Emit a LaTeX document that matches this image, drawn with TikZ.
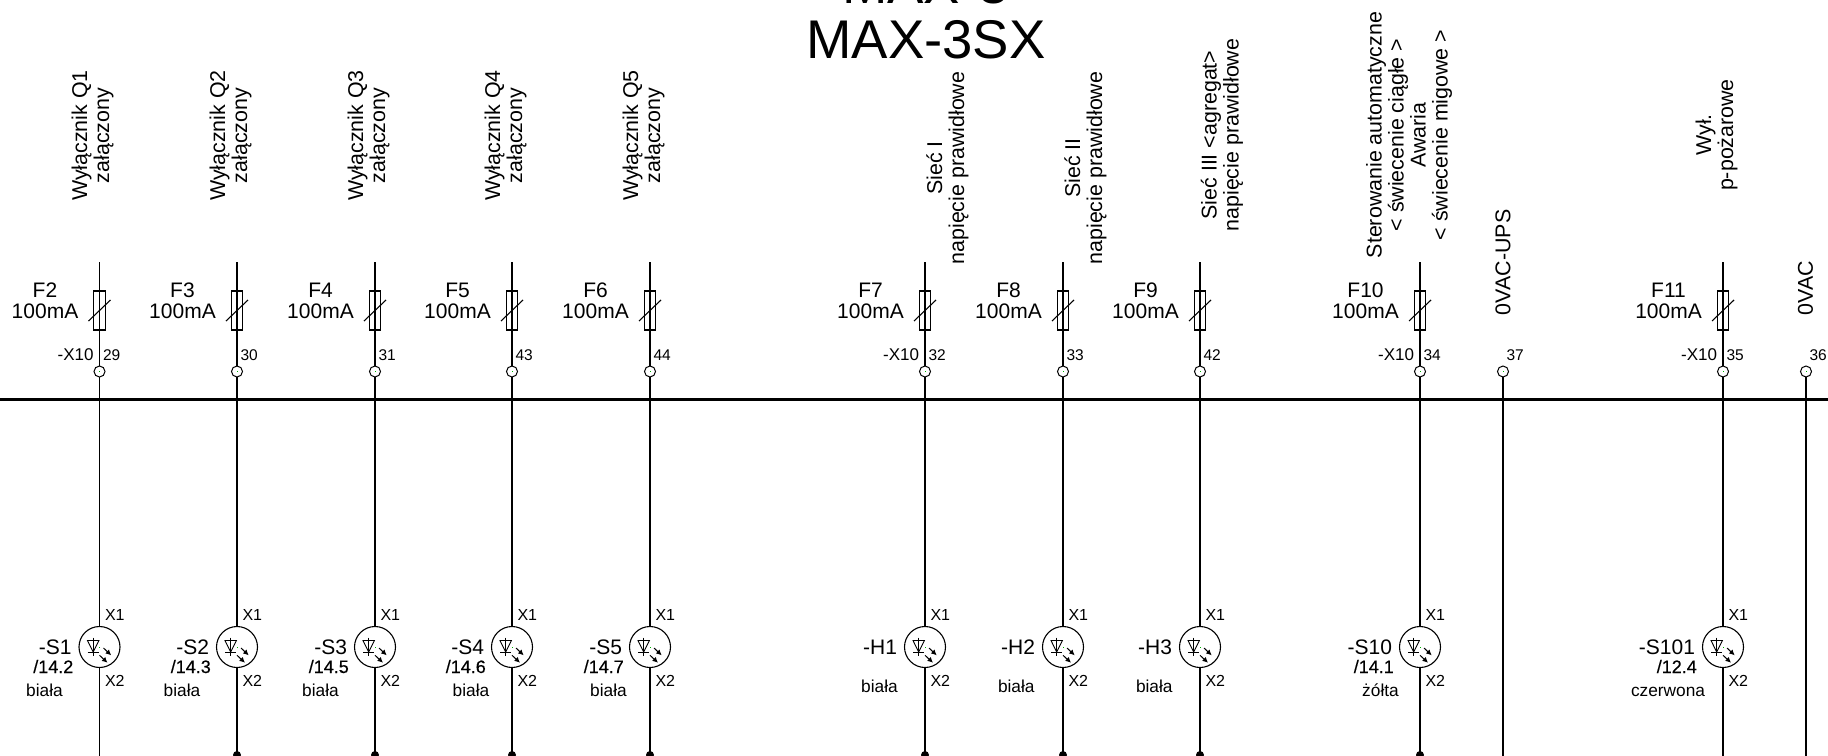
\documentclass[tikz,border=0pt]{standalone}
\usepackage{fontspec}
\setmainfont{Liberation Sans}
\newfontfamily\semibold[FakeBold=0.4]{Liberation Sans}
\usetikzlibrary{arrows.meta}
\newcommand{\fs}[1]{\fontsize{#1}{#1}\selectfont}
\tikzset{
  x=1pt,y=-1pt,
  wire/.style={line width=1.1pt,black},
  busline/.style={line width=3pt,black},
  fusebox/.style={draw,line width=1.1pt,fill=white,minimum width=11.5pt,minimum height=39pt,inner sep=0pt,outer sep=0pt},
  term/.style={circle,draw,line width=1pt,minimum size=11pt,inner sep=0pt,outer sep=0pt},
  lamp/.style={circle,draw,line width=1.1pt,minimum size=41pt,inner sep=0pt,outer sep=0pt},
  txt/.style={inner sep=0pt,outer sep=0pt,text=black},
  rotlabel/.style={txt,rotate=90,align=center,font=\fontsize{21.4}{22}\selectfont},
  fuselabel/.style={txt,align=center,anchor=base,font=\fontsize{21}{21}\selectfont},
  xten/.style={txt,anchor=base east,font=\fs{17}},
  tnum/.style={txt,anchor=base west,font=\fs{15.5}},
  pinlabel/.style={txt,anchor=base west,font=\fs{16}},
  tagname/.style={txt,anchor=base east,font=\fs{21}},
  ref/.style={txt,anchor=base east,font=\semibold\fs{18}},
  colour/.style={txt,anchor=base,font=\fs{17.3}},
  dotend/.style={circle,fill=black,minimum size=8pt,inner sep=0pt},
  glyph/.style={line width=0.9pt,black},
  light/.style={line width=1pt,black,-{Latex[length=5.5pt,width=5.5pt]}},
}
\newcommand{\speck}[2]{\fill[green!70!black] (#1-0.4,#2-0.4) rectangle (#1+0.4,#2+0.4);}
\newcommand{\lampglyph}[1]{%
  \begin{scope}[shift={(#1,647)}]
    \draw[glyph] (-6.3,-9.3) -- (-6.3,9);
    \draw[glyph] (-12,-6.5) -- (-0.6,-6.5) -- (-6.3,5) -- cycle;
    \draw[glyph] (-12,5) -- (-0.6,5);
    \draw[light] (4,1) -- (11.7,8.3);
    \draw[light] (0,8.3) -- (8,15.7);
  \end{scope}}
\def\coly{696}
% #1 id, #2 x, #3 fuse name, #4 number, #5 -X10 text, #6 tag, #7 ref, #8 colour, #9 colour x
\newcommand{\leg}[9]{%
  \coordinate (top#1) at (#2,262);
  \node[fusebox] (fuse#1) at (#2,310.5) {};
  \node[term] (term#1) at (#2,371.5) {};
  \node[lamp] (lamp#1) at (#2,647) {};
  \coordinate (bot#1) at (#2,760);
  \draw[wire] (top#1) -- (fuse#1.north);
  \draw[wire] (fuse#1.north) -- (fuse#1.south);
  \draw[wire] (fuse#1.south) -- (term#1.north);
  \draw[wire] (term#1.south) -- (lamp#1.north);
  \draw[wire] (lamp#1.south) -- (bot#1);
  \draw[wire] ([shift={(-11,10.5)}]fuse#1.center) -- ([shift={(11,-10.5)}]fuse#1.center);
  \speck{#2}{371.5}
  \speck{#2}{647}
  \node[fuselabel] (fn#1) at (#2-54.5,318) {#3\\100mA};
  \node[xten] (x#1) at (#2-6,360) {#5};
  \node[tnum] (n#1) at (#2+3.5,360) {#4};
  \node[pinlabel] (pa#1) at (#2+5.5,620) {X1};
  \node[pinlabel] (pb#1) at (#2+5.5,686) {X2};
  \node[tagname] (tag#1) at (#2-28,654.5) {#6};
  \node[ref] (ref#1) at (#2-26.2,673) {#7};
  \node[colour] (col#1) at (#9,\coly) {#8};
  \lampglyph{#2}
}
\newcommand{\plainleg}[3]{%
  \node[term] (term#1) at (#2,371.5) {};
  \coordinate (bot#1) at (#2,760);
  \draw[wire] (term#1.south) -- (bot#1);
  \speck{#2}{371.5}
  \node[tnum] (n#1) at (#2+3.5,360) {#3};
}
\begin{document}
\begin{tikzpicture}
\useasboundingbox (0,0) rectangle (1828,755);
\clip (0,0) rectangle (1828,755);
\fill[white] (0,0) rectangle (1828,755);
\node[txt,anchor=base,font=\fs{54.5}] (titlea) at (925.5,3) {MAX-3};
\node[txt,anchor=base,font=\fs{54.5}] (titleb) at (926,58) {MAX-3SX};

\coordinate (busL) at (0,399);
\coordinate (busR) at (1828,399);
\draw[busline] (busL) -- (busR);

\leg{a}{99.5}{F2}{29}{-X10}{-S1}{/14.2}{biała}{44.5}
\leg{b}{237}{F3}{30}{}{-S2}{/14.3}{biała}{182}
\leg{c}{375}{F4}{31}{}{-S3}{/14.5}{biała}{320.5}
\leg{d}{512}{F5}{43}{}{-S4}{/14.6}{biała}{471}
\leg{e}{650}{F6}{44}{}{-S5}{/14.7}{biała}{608.5}
\def\coly{692}
\leg{f}{925}{F7}{32}{-X10}{-H1}{}{biała}{879.5}
\leg{g}{1063}{F8}{33}{}{-H2}{}{biała}{1016.3}
\leg{h}{1200}{F9}{42}{}{-H3}{}{biała}{1154.3}
\def\coly{696}
\leg{i}{1420}{F10}{34}{-X10}{-S10}{/14.1}{żółta}{1380.5}
\leg{j}{1723}{F11}{35}{-X10}{-S101}{/12.4}{czerwona}{1668}
\plainleg{k}{1503}{37}
\plainleg{l}{1806}{36}

\foreach \d in {b,c,d,e,f,g,h,i} \node[dotend] (dot\d) at (bot\d |- 0,755) {};

\node[rotlabel] (la) at (92.5,135.5) {Wyłącznik Q1\\załączony};
\node[rotlabel] (lb) at (230.5,135.5) {Wyłącznik Q2\\załączony};
\node[rotlabel] (lc) at (368.5,135.5) {Wyłącznik Q3\\załączony};
\node[rotlabel] (ld) at (505.5,135.5) {Wyłącznik Q4\\załączony};
\node[rotlabel] (le) at (643.5,135.5) {Wyłącznik Q5\\załączony};
\node[rotlabel] (lf) at (947.5,168) {Sieć I\\napięcie prawidłowe};
\node[rotlabel] (lg) at (1085.5,168) {Sieć II\\napięcie prawidłowe};
\node[rotlabel] (lh) at (1222,135) {Sieć III <agregat>\\napięcie prawidłowe};
\node[rotlabel] (li) at (1409,135) {Sterowanie automatyczne\\< świecenie ciągłe >\\Awaria\\< świecenie migowe >};
\node[rotlabel] (lj) at (1716.5,135) {Wył.\\p-pożarowe};
\node[rotlabel,anchor=west] (lk) at (1503,315) {0VAC-UPS};
\node[rotlabel,anchor=west] (ll) at (1805.5,315.5) {0VAC};
\end{tikzpicture}
\end{document}
